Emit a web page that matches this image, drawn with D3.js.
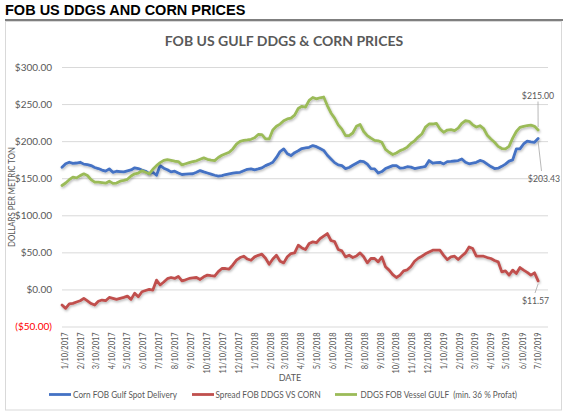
<!DOCTYPE html>
<html>
<head>
<meta charset="utf-8">
<script src="https://cdn.jsdelivr.net/npm/d3@7"></script>
<style>
  html, body { margin: 0; padding: 0; background: #ffffff; }
  svg { display: block; }
  text { white-space: pre; }
</style>
</head>
<body>
<svg id="chart" width="567" height="416"></svg>
<script>
// ---------------- DATA ----------------
const startDate = "2017-01-06";          // first weekly observation
const weeksCount = 132;                  // weekly observations
const seriesNames = ["Corn FOB Gulf Spot Delivery", "Spread FOB DDGS VS CORN", "DDGS FOB Vessel GULF  (min. 36 % Profat)"];

const corn = [
  164.8,169.5,171.5,170,170.5,171.5,169,168.4,167,164.5,
  163,161,159.5,162.6,158,159.4,159,158.5,160,161.2,
  164,163,161,159.4,156,158,154,167,163.5,161.5,
  158.5,159.4,157,155,155.5,155.8,156,158,160.3,158.5,
  157,155.5,154,152.7,153.5,155,156,156.8,157.5,158,
  160,162,162.6,161.2,162.5,164,167,169,171.5,178,
  186,189.5,183,180.5,184.5,187,190,190.8,191.7,194,
  192.5,190,187.5,181,176,171,168,167,163,164.5,
  167.5,170.2,173,172.5,169,163,162.6,157,159,163,
  165,167,167,163.5,164,165.5,165,163,164,164.8,
  166,173.8,170.2,171,171.5,169.3,172.4,172.7,173.2,173.8,
  176,171.5,169.5,170.5,171.5,174,172.5,169,165.7,163,
  163.5,166,169,173,174.7,189.5,189.5,196.2,200,199,
  198.4,203.43
];

const spread = [
  -21.1,-25.5,-19.5,-18.8,-17,-15.2,-12.1,-15.5,-19,-21.1,
  -16,-14.3,-15.2,-10.8,-12,-13.4,-12,-10.8,-9,-13.4,
  -5,-9.9,-3.1,-1.5,0,-0.9,12.5,6,10,14.5,
  16.1,14.8,17.5,11.6,13,14.8,15.5,16.1,13.4,17,
  19.3,18.5,17.9,24,28.2,28.2,27.5,33,39.4,43,
  44.8,41,39.4,43.9,46,47.5,42,34,41,46.1,
  38,35.8,44,48.4,49.3,59.6,56,53.8,62,64.1,
  63,68.5,72,75.3,66,64.5,53.8,52,43.9,46.1,
  43,45,49.3,44,35.8,41.7,41.7,37.2,43.9,30.5,
  26,20,16.1,19.3,25.1,26.5,31,38,42,44.8,
  48,50.5,52.9,53,52.9,46,40.3,43.9,44.8,40.3,
  45,49.3,57.3,55.1,44.8,44.8,44.8,43,41.7,39,
  37.2,23.7,25.1,19.3,26,21.5,29.5,26,23,19.3,
  22.4,11.57
];

const ddgs = [
  140.2,143.5,148,151.4,150.5,153.5,155.9,153.6,148,144.7,
  144.7,144,143.3,146,143,143.5,146,147,148.5,153,
  156,157,160,158,156,162,167,171,174,175,
  174,172.9,172.5,168,169.5,171,172.5,173.5,175.5,177.4,
  175.5,174.5,173.8,178,181,183,185,189.5,196,199.8,
  201,201.6,202.5,204.5,209,208.7,203,203,215,220,
  223,227.5,230,231.1,235,244,247,246,255,258.9,
  257,258.5,259.5,248,238,231,222,216.3,207.4,207.5,
  211,220,222.5,213,207.5,204,201,200.5,198.4,189,
  185,182,184,187.2,189,192,197,200.5,205.5,209.6,
  219,223.1,223.1,224,216.5,211.9,215,215.5,214.1,217.5,
  224,227.5,226.8,222,219,220.8,217,208,203,198.5,
  193,190,189.5,193,204,213,218.6,220,220.8,221.5,
  220,215
];

const yTicks = [-50, 0, 50, 100, 150, 200, 250, 300];
const xTickLabels = [
  "1/10/2017","2/10/2017","3/10/2017","4/10/2017","5/10/2017","6/10/2017","7/10/2017",
  "8/10/2017","9/10/2017","10/10/2017","11/10/2017","12/10/2017","1/10/2018","2/10/2018",
  "3/10/2018","4/10/2018","5/10/2018","6/10/2018","7/10/2018","8/10/2018","9/10/2018",
  "10/10/2018","11/10/2018","12/10/2018","1/10/2019","2/10/2019","3/10/2019","4/10/2019",
  "5/10/2019","6/10/2019","7/10/2019"
];
const colors = ["#4472C4", "#C0504D", "#9BBB59"];

// ---------------- CHART ----------------
const svg = d3.select("#chart");
const parse = d3.timeParse("%Y-%m-%d");
const parseTick = d3.timeParse("%m/%d/%Y");
const t0 = parse(startDate);
const dates = d3.range(weeksCount).map(i => d3.timeDay.offset(t0, 7 * i));

const plot = { left: 62, right: 548, top: 67, bottom: 326.5 };
const x = d3.scaleTime()
  .domain([t0, parse("2019-07-31")])
  .range([plot.left, plot.right]);
const y = d3.scaleLinear().domain([-50, 300]).range([plot.bottom, plot.top]);

const axisFont = "Lato, 'Open Sans', sans-serif";
const grey = "#595959";
const narrow = 0.87;   // horizontal compression to mimic a narrow (Calibri-like) face

// header
svg.append("text")
  .attr("x", 5).attr("y", 15)
  .attr("font-family", "'Liberation Sans', Arial, sans-serif")
  .attr("font-weight", "bold").attr("font-size", 14.5)
  .attr("fill", "#000").text("FOB US DDGS AND CORN PRICES");
svg.append("line")
  .attr("x1", 5).attr("x2", 563).attr("y1", 20).attr("y2", 20)
  .attr("stroke", "#555").attr("stroke-width", 1.5);

// chart frame
svg.append("rect")
  .attr("x", 5.5).attr("y", 21.5).attr("width", 556).attr("height", 388.5)
  .attr("fill", "#fff").attr("stroke", "#D9D9D9").attr("stroke-width", 1);

// chart title
svg.append("text")
  .attr("x", 284).attr("y", 46).attr("text-anchor", "middle")
  .attr("font-family", axisFont).attr("font-weight", "bold").attr("font-size", 14)
  .attr("fill", grey).text("FOB US GULF DDGS & CORN PRICES");

// shadow filter
const defs = svg.append("defs");
const f = defs.append("filter").attr("id", "shadow")
  .attr("x", "-5%").attr("y", "-20%").attr("width", "110%").attr("height", "140%");
f.append("feDropShadow").attr("dx", 0.8).attr("dy", 1.5).attr("stdDeviation", 0.9)
  .attr("flood-color", "#000").attr("flood-opacity", 0.28);

// y gridlines & axis
const yAxis = d3.axisLeft(y).tickValues(yTicks)
  .tickSize(-(plot.right - plot.left)).tickPadding(10)
  .tickFormat(d => d < 0 ? "($" + d3.format(".2f")(-d) + ")" : "$" + d3.format(".2f")(d));
const gy = svg.append("g").attr("transform", `translate(${plot.left},0)`).call(yAxis);
gy.select(".domain").remove();
gy.selectAll(".tick line").attr("stroke", "#D9D9D9").attr("stroke-width", 1);
gy.selectAll(".tick text")
  .attr("font-family", axisFont).attr("font-size", 10)
  .attr("fill", d => d < 0 ? "#FF0000" : grey);

// y axis title
svg.append("text")
  .attr("transform", `translate(15,197) rotate(-90) scale(${narrow},1)`)
  .attr("text-anchor", "middle")
  .attr("font-family", axisFont).attr("font-size", 9)
  .attr("fill", grey).text("DOLLARS PER METRIC TON");

// x axis labels
const xTickDates = xTickLabels.map(s => parseTick(s));
const xAxis = d3.axisBottom(x).tickValues(xTickDates).tickSize(0).tickPadding(0)
  .tickFormat((d, i) => xTickLabels[i]);
const gx = svg.append("g").attr("transform", `translate(0,${plot.bottom})`).call(xAxis);
gx.select(".domain").remove();
gx.selectAll(".tick text")
  .attr("font-family", axisFont).attr("font-size", 10).attr("fill", grey)
  .attr("text-anchor", "end")
  .attr("transform", "translate(0,6) rotate(-90) scale(0.74,1)")
  .attr("x", 0).attr("y", 0).attr("dy", "0.35em");

// x axis title
svg.append("text")
  .attr("x", 290).attr("y", 380.5).attr("text-anchor", "middle")
  .attr("font-family", axisFont).attr("font-size", 9)
  .attr("fill", grey).text("DATE");

// lines
const seriesData = [corn, spread, ddgs];
const line = d3.line().x((d, i) => x(dates[i])).y(d => y(d));
seriesData.forEach((s, k) => {
  svg.append("path")
    .datum(s)
    .attr("d", line)
    .attr("fill", "none")
    .attr("stroke", colors[k])
    .attr("stroke-width", 2.8)
    .attr("stroke-linejoin", "round")
    .attr("stroke-linecap", "round")
    .attr("filter", "url(#shadow)");
});

// data labels with leader lines
const last = weeksCount - 1;
const lx = x(dates[last]);
const labels = [
  { v: ddgs[last], tx: 538, ty: 95, lx2: 538, ly2: 101.5 },
  { v: corn[last], tx: 544, ty: 178, lx2: 541.5, ly2: 171 },
  { v: spread[last], tx: 535.5, ty: 300, lx2: 535, ly2: 293 }
];
labels.forEach(l => {
  const py = y(l.v);
  svg.append("line")
    .attr("x1", lx).attr("y1", py + (l.ly2 < py ? -3 : 3))
    .attr("x2", l.lx2).attr("y2", l.ly2)
    .attr("stroke", "#A6A6A6").attr("stroke-width", 0.8);
  svg.append("text")
    .attr("transform", `translate(${l.tx},${l.ty}) scale(${narrow},1)`)
    .attr("dy", "0.35em")
    .attr("text-anchor", "middle")
    .attr("font-family", axisFont).attr("font-size", 10)
    .attr("fill", grey)
    .text("$" + d3.format(".2f")(l.v));
});

// legend
const legendItems = [
  { x: 49, tx: 73, name: seriesNames[0], c: colors[0] },
  { x: 192, tx: 215.5, name: seriesNames[1], c: colors[1] },
  { x: 335, tx: 360.5, name: seriesNames[2], c: colors[2] }
];
const lg = svg.append("g");
legendItems.forEach(it => {
  lg.append("line")
    .attr("x1", it.x).attr("x2", it.x + 22)
    .attr("y1", 394.5).attr("y2", 394.5)
    .attr("stroke", it.c).attr("stroke-width", 2.8);
  lg.append("text")
    .attr("transform", `translate(${it.tx},394.5) scale(0.82,1)`)
    .attr("dy", "0.35em")
    .attr("font-family", axisFont).attr("font-size", 10)
    .attr("fill", grey).text(it.name);
});
</script>
</body>
</html>
